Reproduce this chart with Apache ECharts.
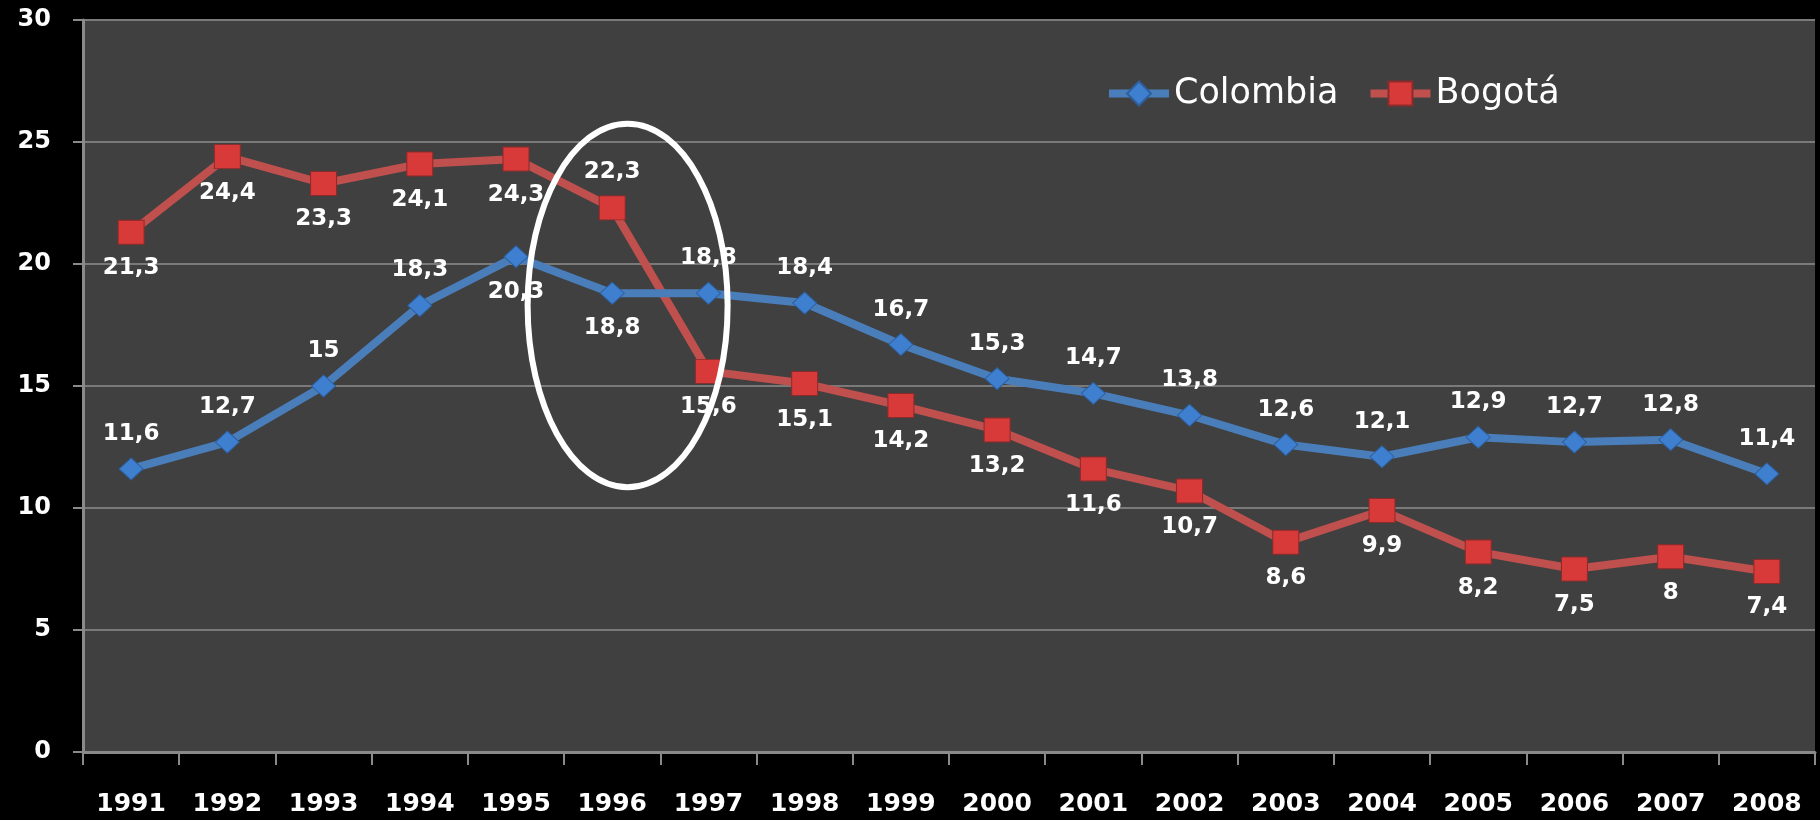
<!DOCTYPE html>
<html>
<head>
<meta charset="utf-8">
<title>Colombia vs Bogotá</title>
<script src="https://cdn.jsdelivr.net/npm/echarts@6/dist/echarts.min.js"></script>
<style>
  html, body { margin: 0; padding: 0; background: #000; }
  #chart { width: 1820px; height: 820px; }
</style>
</head>
<body>
<div id="chart"></div>
<script>
// datos
const years = ["1991", "1992", "1993", "1994", "1995", "1996", "1997", "1998", "1999",
  "2000", "2001", "2002", "2003", "2004", "2005", "2006", "2007", "2008"];
const colombia = [11.6, 12.7, 15, 18.3, 20.3, 18.8, 18.8, 18.4, 16.7, 15.3, 14.7, 13.8, 12.6, 12.1, 12.9, 12.7, 12.8, 11.4];
const bogota = [21.3, 24.4, 23.3, 24.1, 24.3, 22.3, 15.6, 15.1, 14.2, 13.2, 11.6, 10.7, 8.6, 9.9, 8.2, 7.5, 8, 7.4];
const yTicks = [0, 5, 10, 15, 20, 25, 30];

// puntos cuya etiqueta va al otro lado
const colombiaFlip = [4, 5];
const bogotaFlip = [5];

const chart = echarts.init(document.getElementById("chart"));

const fmt = function(p) {
  return String(p.value).replace(".", ",");
};

const buildData = function(values, flip, normalPos, flipPos) {
  return values.map(function(v, i) {
    return {
      value: v,
      label: { position: flip.indexOf(i) >= 0 ? flipPos : normalPos }
    };
  });
};

const labelStyle = {
  show: true,
  color: "#ffffff",
  fontFamily: "DejaVu Sans",
  fontWeight: "bold",
  fontSize: 23,
  distance: 12,
  formatter: fmt
};

const option = {
  backgroundColor: "#000000",
  animation: false,
  textStyle: { fontFamily: "DejaVu Sans" },
  grid: {
    left: 83,
    right: 5,
    top: 20,
    bottom: 68,
    show: true,
    backgroundColor: "#404040",
    borderWidth: 0
  },
  legend: {
    left: 1100,
    top: 71,
    itemWidth: 60,
    itemHeight: 30,
    itemGap: 28,
    lineStyle: { width: 8 },
    textStyle: { color: "#ffffff", fontSize: 35, fontFamily: "DejaVu Sans" },
    data: ["Colombia", "Bogotá"]
  },
  xAxis: {
    type: "category",
    data: years,
    boundaryGap: true,
    axisLine: { lineStyle: { color: "#8a8a8a", width: 3 } },
    axisTick: { show: true, length: 13, lineStyle: { color: "#8a8a8a", width: 2 } },
    axisLabel: { color: "#ffffff", fontSize: 25, fontWeight: "bold", margin: 40, fontFamily: "DejaVu Sans" }
  },
  yAxis: {
    type: "value",
    min: yTicks[0],
    max: yTicks[yTicks.length - 1],
    interval: yTicks[1] - yTicks[0],
    axisLine: { show: true, lineStyle: { color: "#8a8a8a", width: 3 } },
    axisTick: { show: true, length: 10, lineStyle: { color: "#8a8a8a", width: 2 } },
    axisLabel: { color: "#ffffff", fontSize: 24, fontWeight: "bold", margin: 32, fontFamily: "DejaVu Sans" },
    splitLine: { lineStyle: { color: "#7a7a7a", width: 2 } }
  },
  series: [
    {
      name: "Colombia",
      type: "line",
      data: buildData(colombia, colombiaFlip, "top", "bottom"),
      symbol: "diamond",
      symbolSize: [24, 22],
      lineStyle: { color: "#4a7ebb", width: 8 },
      itemStyle: { color: "#3f7fcf", borderColor: "#2d5f9e", borderWidth: 1 },
      label: labelStyle,
      z: 3
    },
    {
      name: "Bogotá",
      type: "line",
      data: buildData(bogota, bogotaFlip, "bottom", "top"),
      symbol: "rect",
      symbolSize: [26, 24],
      lineStyle: { color: "#c0504d", width: 8 },
      itemStyle: { color: "#d83a3a", borderColor: "#8e2a2a", borderWidth: 1 },
      label: labelStyle,
      z: 2
    }
  ]
};

chart.setOption(option);

// elipse blanca alrededor de 1996 (un poco a la derecha del punto)
const p96 = chart.convertToPixel({ gridIndex: 0 }, [5, 18.3]);
const p97 = chart.convertToPixel({ gridIndex: 0 }, [6, 18.3]);
const top25 = chart.convertToPixel({ gridIndex: 0 }, [0, 25.75]);
const cx = p96[0] + (p97[0] - p96[0]) * 0.16;
const ry = p96[1] - top25[1];
chart.setOption({
  graphic: [{
    type: "ellipse",
    shape: { cx: cx, cy: p96[1], rx: 100, ry: ry },
    style: { fill: null, stroke: "#ffffff", lineWidth: 6 },
    z: 100
  }]
});
</script>
</body>
</html>
